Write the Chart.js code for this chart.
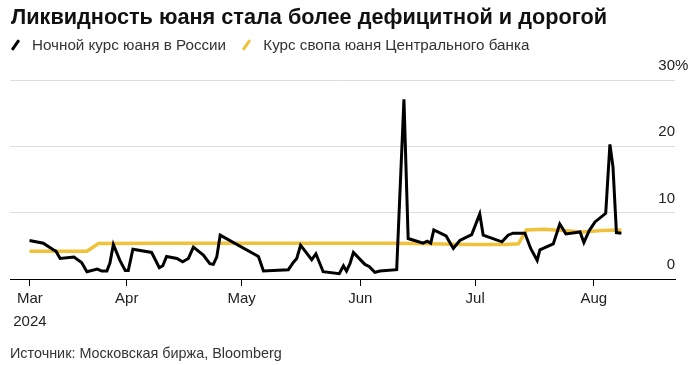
<!DOCTYPE html>
<html>
<head>
<meta charset="utf-8">
<script src="https://cdn.jsdelivr.net/npm/chart.js@4.4.1/dist/chart.umd.min.js"></script>
<style>
  body { margin: 0; background: #fff; font-family: "Liberation Sans", Arial, sans-serif; }
  #wrap { position: relative; width: 694px; height: 365px; overflow: hidden; }
  #chart { position: absolute; left: 0; top: 0; }
  #title { position: absolute; left: 11px; top: 4px; font-size: 21.7px; font-weight: bold; color: #111; white-space: nowrap; }
  #legend { position: absolute; left: 10px; top: 36px; font-size: 15.2px; color: #333; white-space: nowrap; }
  .item { display: inline-block; margin-right: 11px; }
  .sw { display: inline-block; width: 3px; height: 12px; margin: 0 15px 0 4px; transform: rotate(35deg); vertical-align: -1px; border-radius: 1px; }
  #source { position: absolute; left: 10px; top: 345px; font-size: 14.4px; color: #333; white-space: nowrap; }
</style>
</head>
<body>
<div id="wrap">
  <canvas id="chart" width="694" height="365"></canvas>
  <div id="title">Ликвидность юаня стала более дефицитной и дорогой</div>
  <div id="legend">
    <span class="item"><span class="sw" style="background:#000"></span>Ночной курс юаня в России</span>
    <span class="item"><span class="sw" style="background:#f0c23b"></span>Курс свопа юаня Центрального банка</span>
  </div>
  <div id="source">Источник: Московская биржа, Bloomberg</div>
</div>
<script>
// x values are days counted from 1 March 2024
const overnightDays = [
  5.6, 9.2, 11.8, 12.5, 13.6, 17.2, 19.2, 20.6, 23.3, 24.5, 25.8, 26.6, 27.5, 29.2,
  30.6, 31.4, 32.6, 37.5, 39.5, 40.4, 41.4, 44.1, 45.6, 47.1, 48.4, 51.0, 52.7, 53.6,
  54.5, 55.4, 65.4, 66.7, 73.2, 74.5, 75.4, 76.4, 79.3, 80.4, 82.3, 86.5, 87.6, 88.4,
  89.3, 90.2, 93.2, 94.3, 95.8, 97.1, 101.5, 103.4, 104.5, 108.4, 109.5, 110.4, 111.2,
  114.4, 116.3, 118.0, 121.1, 123.2, 124.1, 129.0, 130.6, 131.9, 135.0, 136.5, 138.2,
  138.9, 142.4, 144.1, 145.7, 149.4, 150.4, 151.8, 153.3, 156.1, 157.2, 158.0, 158.9, 160.2
];
const overnightRate = [
  5.8, 5.4, 4.4, 4.2, 3.1, 3.3, 2.5, 1.1, 1.5, 1.2, 1.2, 2.4, 5.2, 2.8,
  1.3, 1.3, 4.5, 4.0, 1.7, 2.0, 3.4, 3.1, 2.6, 3.1, 4.8, 3.6, 2.3, 2.2,
  3.3, 6.6, 3.4, 1.2, 1.4, 2.5, 3.1, 5.1, 2.9, 3.8, 1.1, 0.8, 2.0, 1.2,
  2.3, 4.0, 2.2, 1.9, 1.0, 1.2, 1.4, 27.1, 6.1, 5.4, 5.7, 5.4, 7.4,
  6.5, 4.6, 5.8, 6.7, 9.8, 6.6, 5.6, 6.6, 6.9, 6.9, 4.6, 2.8,
  4.4, 5.3, 8.3, 6.8, 7.1, 5.5, 7.3, 8.6, 9.9, 20.3, 16.9, 7.0, 6.9
];

const swapDays = [5.6, 20.6, 23.6, 40, 60, 80, 100, 110, 120, 130, 133.3, 135.4, 140, 145, 150, 155, 160.2];
const swapRate = [4.2, 4.2, 5.35, 5.4, 5.4, 5.4, 5.4, 5.3, 5.2, 5.2, 5.3, 7.4, 7.5, 7.3, 7.1, 7.3, 7.4];

const monthTicks = [5.7, 31, 61, 92, 122, 153];
const monthLabels = [["Mar", "2024"], "Apr", "May", "Jun", "Jul", "Aug"];
const yTicks = [0, 10, 20, 30];

const toPoints = (xs, ys) => xs.map((x, i) => ({ x, y: ys[i] }));

const yLabels = {
  id: "yLabels",
  afterDraw(chart) {
    const { ctx, chartArea, scales } = chart;
    ctx.save();
    ctx.font = "15px 'Liberation Sans', Arial, sans-serif";
    ctx.fillStyle = "#222";
    ctx.textBaseline = "middle";
    yTicks.forEach((v) => {
      const y = scales.y.getPixelForValue(v) - 14;
      ctx.textAlign = "right";
      ctx.fillText(String(v), chartArea.right, y);
      if (v === 30) {
        ctx.textAlign = "left";
        ctx.fillText("%", chartArea.right, y);
      }
    });
    ctx.restore();
  },
};

new Chart(document.getElementById("chart"), {
  type: "line",
  data: {
    datasets: [
      {
        label: "Ночной курс юаня в России",
        data: toPoints(overnightDays, overnightRate),
        borderColor: "#000",
        borderWidth: 3,
      },
      {
        label: "Курс свопа юаня Центрального банка",
        data: toPoints(swapDays, swapRate),
        borderColor: "#f0c23b",
        borderWidth: 3.5,
      },
    ],
  },
  options: {
    responsive: false,
    animation: false,
    layout: { padding: { left: 10, right: 19, top: 80, bottom: 30 } },
    elements: {
      point: { radius: 0, hoverRadius: 0 },
      line: { tension: 0, borderJoinStyle: "miter" },
    },
    plugins: {
      legend: { display: false },
      tooltip: { enabled: false },
    },
    scales: {
      x: {
        type: "linear",
        min: 0.5,
        max: 174.2,
        afterBuildTicks: (scale) => {
          scale.ticks = monthTicks.map((value) => ({ value }));
        },
        ticks: {
          autoSkip: false,
          maxRotation: 0,
          padding: 2,
          color: "#222",
          font: { family: "'Liberation Sans', Arial, sans-serif", size: 15, lineHeight: 1.5 },
          callback: (value, index) => monthLabels[index],
        },
        grid: { drawOnChartArea: false, drawTicks: true, tickLength: 7, color: "#000" },
        border: { display: true, color: "#000", width: 1 },
      },
      y: {
        min: 0,
        max: 30,
        ticks: { display: false, stepSize: 10 },
        grid: { drawTicks: false, color: "#ddd", lineWidth: 1 },
        border: { display: false },
      },
    },
  },
  plugins: [yLabels],
});
</script>
</body>
</html>
